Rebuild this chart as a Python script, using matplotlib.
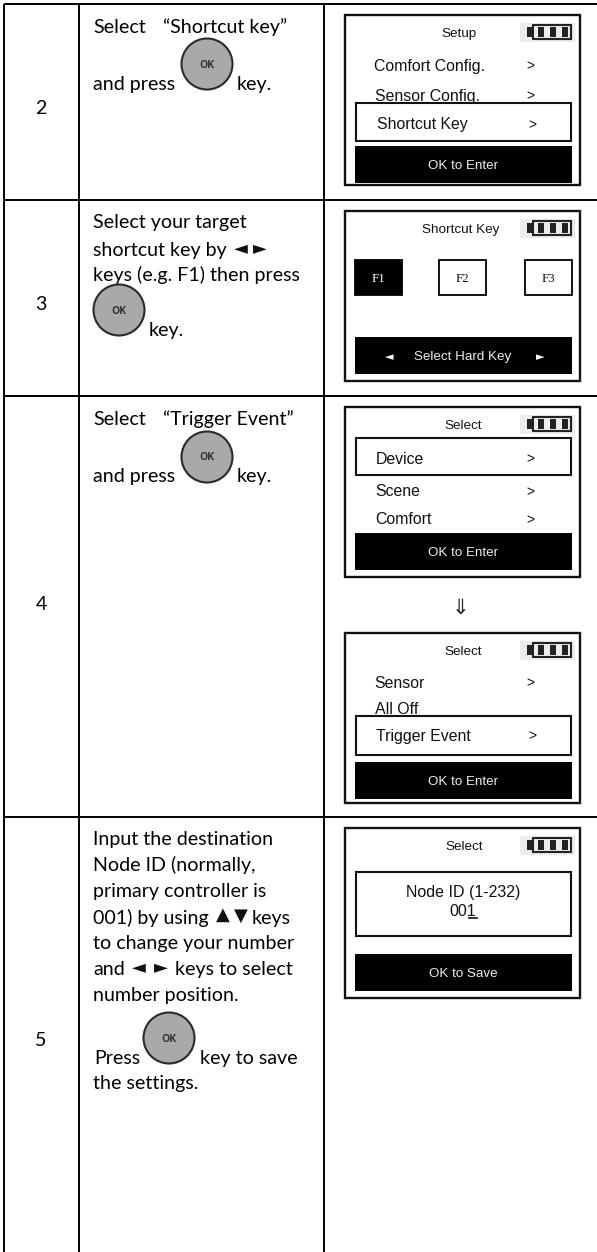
import matplotlib
matplotlib.use("Agg")
import matplotlib.pyplot as plt
from matplotlib.patches import Rectangle, Circle

# table content
step_numbers = ["2", "3", "4", "5"]
step2_lines = ["Select", "“Shortcut key”", "and press", "key."]
step3_lines = ["Select your target", "shortcut key by", "keys (e.g. F1) then press", "key."]
step4_lines = ["Select", "“Trigger Event”", "and press", "key."]
step5_lines = ["Input the destination", "Node ID (normally,", "primary controller is",
               "001) by using", "to change your number", "and", "number position.",
               "Press", "key to save", "the settings."]

setup_items = ["Comfort Config.", "Sensor Config.", "Shortcut Key"]
select_items_a = ["Device", "Scene", "Comfort"]
select_items_b = ["Sensor", "All Off", "Trigger Event"]
hard_keys = ["F1", "F2", "F3"]

BODY = ["Lato", "DejaVu Sans"]
LCD = "Liberation Sans"

fig = plt.figure(figsize=(5.97, 12.52), dpi=100)
ax = fig.add_axes([0, 0, 1, 1])
ax.set_xlim(0, 597)
ax.set_ylim(1252, 0)
ax.axis("off")


def body(x, y, s):
    ax.text(x, y + 1, s, family=BODY, fontsize=14.1, color="#000000", va="baseline", ha="left")


def glyph(x, y, s):
    ax.text(x, y, s, family="DejaVu Sans", fontsize=13, color="#111111", ha="center", va="center")


def ok_button(x, y):
    ax.add_patch(Circle((x, y), 25.5, fc="#a9a9a9", ec="#2a2a2a", lw=1.5, zorder=3))
    ax.text(x, y + 1, "OK", family="Open Sans", fontsize=7.5, fontweight="bold",
            color="#333333", ha="center", va="center", zorder=4)


def battery(top):
    ax.add_patch(Rectangle((520, top + 8), 55, 19, fc="#ececec", ec="none", zorder=2))
    ax.add_patch(Rectangle((533, top + 10), 38, 14, fc="none", ec="#222222", lw=1.5, zorder=3))
    ax.add_patch(Rectangle((527, top + 12), 6, 10, fc="#222222", ec="none", zorder=3))
    for cx in (538, 550, 562):
        ax.add_patch(Rectangle((cx, top + 12), 6, 10, fc="#222222", ec="none", zorder=3))


def screen(top, title, title_x, footer, bar_top=131):
    ax.add_patch(Rectangle((345, top), 235, 170, fc="white", ec="#111111", lw=1.7, zorder=1))
    battery(top)
    ax.text(title_x, top + 19, title, family=LCD, fontsize=9.7, color="#111111",
            ha="center", va="center", zorder=4)
    ax.add_patch(Rectangle((355, top + bar_top), 217, 37, fc="black", ec="none", zorder=6))
    ax.text(463, top + bar_top + 20, footer, family=LCD, fontsize=9.6, color="#eeeeee",
            ha="center", va="center", zorder=7)


def menu_item(x, y, s, arrow_x=530):
    ax.text(x, y + 1, s, family=LCD, fontsize=11.4, color="#111111", ha="left", va="center", zorder=2)
    ax.text(arrow_x, y + 1, ">", family=LCD, fontsize=10, color="#111111",
            ha="center", va="center", zorder=4)


def highlight(y0, y1):
    ax.add_patch(Rectangle((356, y0), 215, y1 - y0, fc="white", ec="#111111", lw=1.5, zorder=1.5))


# grid
for x in (4, 79, 324):
    ax.plot([x, x], [4, 1252], color="black", lw=1.4, solid_capstyle="butt")
for y in (4, 200, 396, 817):
    ax.plot([4, 597], [y, y], color="black", lw=1.4, solid_capstyle="butt")

for label, y in zip(step_numbers, (108, 304, 605, 1040)):
    ax.text(41, y, label, family=BODY, fontsize=14.1, color="#000000", ha="center", va="center")

# step 2
body(93, 32, step2_lines[0])
body(163, 32, step2_lines[1])
body(93, 89, step2_lines[2])
ok_button(207, 64)
body(237, 89, step2_lines[3])
screen(15, "Setup", 459, "OK to Enter")
menu_item(374, 65, setup_items[0])
menu_item(375, 95, setup_items[1])
highlight(103, 141)
menu_item(377, 124, setup_items[2], 532)

# step 3
for s, y in zip(step3_lines[:3], (227, 255, 280)):
    body(93, y, s)
glyph(241, 248, "◄")
glyph(260, 248, "►")
ok_button(119, 310)
body(149, 335, step3_lines[3])
screen(211, "Shortcut Key", 461, "Select Hard Key", 126)
for s, x, dark in zip(hard_keys, (355, 439, 525), (True, False, False)):
    ax.add_patch(Rectangle((x, 260), 47, 35, fc="black" if dark else "white",
                           ec="black", lw=1.3, zorder=3))
    ax.text(x + 23.5, 279, s, family="Liberation Serif", fontsize=9.3,
            color="white" if dark else "#111111", ha="center", va="center", zorder=4)
ax.text(389, 357, "◄", family="DejaVu Sans", fontsize=8, color="white", ha="center", va="center", zorder=7)
ax.text(540, 357, "►", family="DejaVu Sans", fontsize=8, color="white", ha="center", va="center", zorder=7)

# step 4
body(93, 424, step4_lines[0])
body(163, 424, step4_lines[1])
body(93, 481, step4_lines[2])
ok_button(207, 457)
body(237, 481, step4_lines[3])

screen(407, "Select", 463, "OK to Enter", 126)
highlight(438, 475)
menu_item(376, 458, select_items_a[0])
menu_item(375, 491, select_items_a[1])
menu_item(375, 519, select_items_a[2])

ax.text(460, 608, "⇓", family="DejaVu Sans", fontsize=15, color="#222222", ha="center", va="center")

screen(633, "Select", 463, "OK to Enter", 129)
menu_item(374, 682, select_items_b[0])
ax.text(375, 710, select_items_b[1], family=LCD, fontsize=11.4, color="#111111",
        ha="left", va="center", zorder=1.2)
highlight(716, 755)
menu_item(376, 735, select_items_b[2], 532)

# step 5
for s, y in zip(step5_lines[:5], (844, 870, 896, 923, 948)):
    body(93, y, s)
glyph(223, 915, "▲")
glyph(241, 916, "▼")
body(252, 923, "keys")
body(93, 974, step5_lines[5])
glyph(139, 967, "◄")
glyph(161, 967, "►")
body(175, 974, "keys to select")
body(93, 1000, step5_lines[6])
ok_button(169, 1038)
body(94, 1063, step5_lines[7])
body(200, 1063, step5_lines[8])
body(93, 1088, step5_lines[9])

screen(828, "Select", 464, "OK to Save", 126)
highlight(872, 936)
ax.text(463, 892, "Node ID (1-232)", family=LCD, fontsize=11.5, color="#111111",
        ha="center", va="center", zorder=4)
ax.text(463, 911, "001", family=LCD, fontsize=11.5, color="#111111",
        ha="center", va="center", zorder=4)
ax.plot([469, 477], [918, 918], color="#111111", lw=1.2, zorder=4)

fig.savefig("out.png", dpi=100)
